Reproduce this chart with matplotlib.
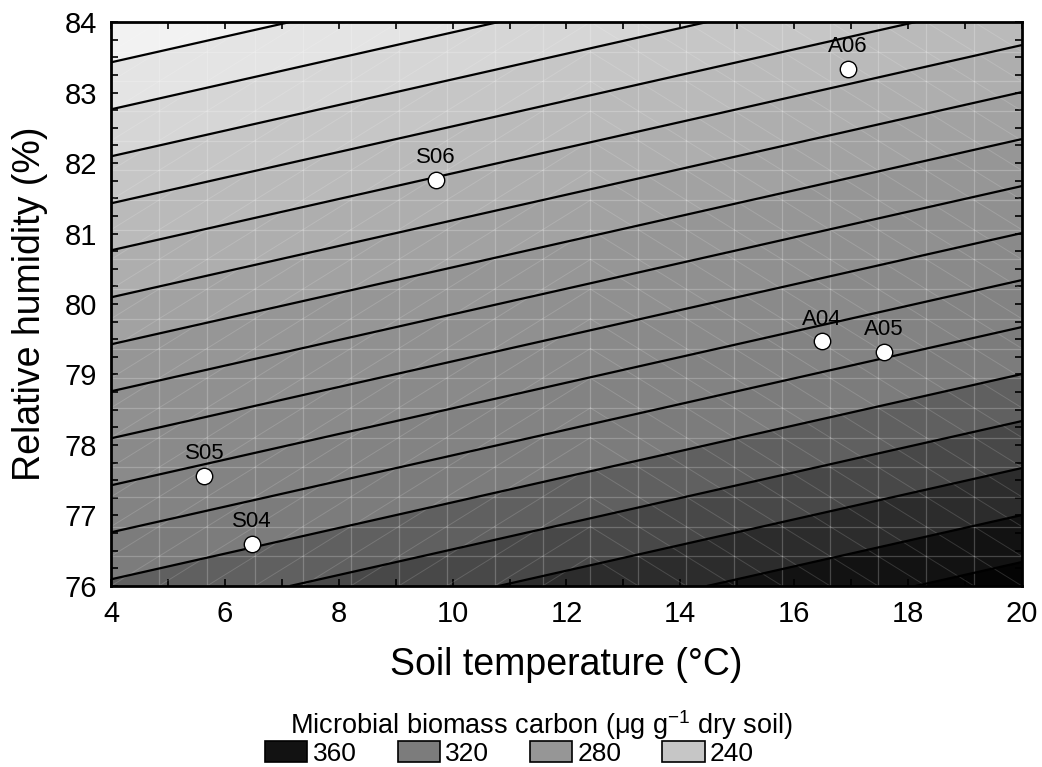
import numpy as np
import matplotlib
matplotlib.use("Agg")
import matplotlib.pyplot as plt
from matplotlib.patches import Patch
from matplotlib.ticker import MultipleLocator

plt.rcParams['font.family'] = ['Liberation Sans', 'DejaVu Sans']
plt.rcParams['mathtext.fontset'] = 'custom'
plt.rcParams['mathtext.rm'] = 'Liberation Sans'
plt.rcParams['mathtext.it'] = 'Liberation Sans:italic'

# Fitted response surface: MBC = b0 + bT * T + bRH * RH
mbc_intercept = 1450.5
mbc_temp_coef = 2.73
mbc_rh_coef = -15.0

# Sampling sites
site_names = ['S04', 'S05', 'S06', 'A04', 'A05', 'A06']
site_temp = [6.48, 5.64, 9.71, 16.49, 17.57, 16.94]
site_rh = [76.60, 77.56, 81.76, 79.47, 79.32, 83.34]

# Contour levels and grey shade of each filled band
contour_levels = list(range(210, 361, 10))
fill_bounds = [190] + contour_levels + [380]
band_grays = [242, 228, 214, 198, 186, 174, 162, 150, 144, 138, 131, 124,
              96, 72, 44, 18, 4]
legend_levels = [360, 320, 280, 240]

x_ticks = list(range(4, 21, 2))
y_ticks = list(range(76, 85, 1))


def grey(v):
    return '#{0:02x}{0:02x}{0:02x}'.format(v)


band_colors = [grey(v) for v in band_grays]

fig = plt.figure(figsize=(10.42, 7.67), dpi=100)
ax = fig.add_axes([0.1065, 0.236, 0.8743, 0.7353])

t = np.linspace(4, 20, 500)
rh = np.linspace(76, 84, 500)
T, RH = np.meshgrid(t, rh)
Z = mbc_intercept + mbc_temp_coef * T + mbc_rh_coef * RH

ax.contourf(T, RH, Z, levels=fill_bounds, colors=band_colors, zorder=1)

# Interpolation mesh of the fitted surface
n_cells = 19
gx = np.linspace(4, 20, n_cells + 1)
gy = np.linspace(76, 84, n_cells + 1)
for xv in gx[1:-1]:
    ax.plot([xv, xv], [76, 84], color='white', alpha=0.22, lw=0.9, zorder=2)
for yv in gy[1:-1]:
    ax.plot([4, 20], [yv, yv], color='white', alpha=0.22, lw=0.9, zorder=2)
for i in range(n_cells):
    for j in range(n_cells):
        if i < n_cells // 2 + 1:
            xs, ys = [gx[i], gx[i + 1]], [gy[j], gy[j + 1]]
        else:
            xs, ys = [gx[i], gx[i + 1]], [gy[j + 1], gy[j]]
        ax.plot(xs, ys, color='white', alpha=0.15, lw=0.7, zorder=2)

ax.contour(T, RH, Z, levels=contour_levels, colors='black', linewidths=1.6,
           zorder=3)

ax.scatter(site_temp, site_rh, s=140, facecolor='white', edgecolor='black',
           linewidths=1.0, zorder=5)
for name, xt, yr in zip(site_names, site_temp, site_rh):
    ax.annotate(name, (xt, yr), xytext=(0, 12), textcoords='offset points',
                ha='center', va='baseline', fontsize=16, zorder=6)

ax.set_xlim(4, 20)
ax.set_ylim(76, 84)
ax.set_xticks(x_ticks)
ax.set_yticks(y_ticks)
ax.xaxis.set_minor_locator(MultipleLocator(1))
ax.yaxis.set_minor_locator(MultipleLocator(0.25))
ax.tick_params(which='both', direction='in', top=True, right=True,
               length=5, width=1.2, color='black')
ax.tick_params(which='major', labelsize=21, pad=10)
for sp in ax.spines.values():
    sp.set_linewidth(2)
    sp.set_zorder(7)

ax.set_xlabel('Soil temperature (°C)', fontsize=27, labelpad=14)
ax.set_ylabel('Relative humidity (%)', fontsize=27, labelpad=12)

fig.text(0.52, 0.054, 'Microbial biomass carbon (μg g$^{-1}$ dry soil)',
         ha='center', va='center', fontsize=19.5)

handles = []
for lv in legend_levels:
    idx = fill_bounds.index(lv) - 1
    handles.append(Patch(facecolor=band_colors[idx], edgecolor='black',
                         linewidth=1.2))
fig.legend(handles, [str(v) for v in legend_levels], ncol=4,
           loc='center', bbox_to_anchor=(0.489, 0.0175), frameon=False,
           fontsize=19, handlelength=1.6, handleheight=0.85,
           handletextpad=0.2, columnspacing=1.55, borderpad=0.0)

fig.savefig('out.png', dpi=100)
